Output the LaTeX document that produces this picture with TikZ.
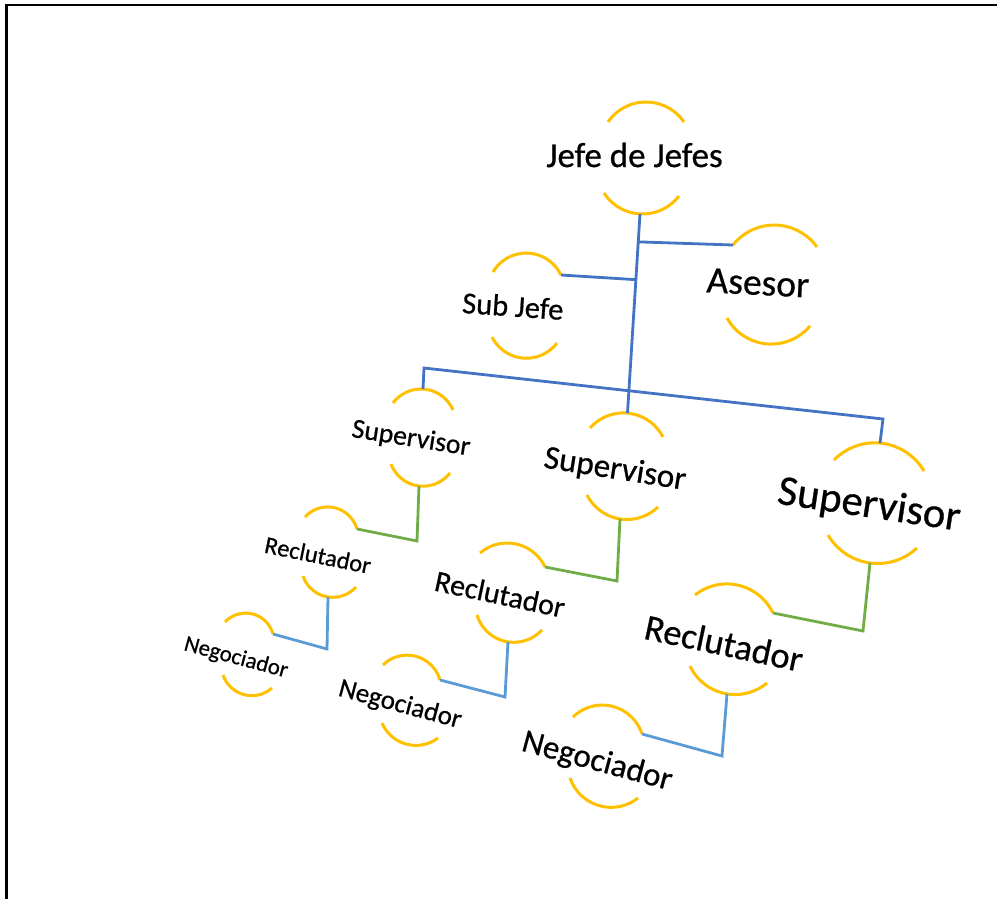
\documentclass[tikz,border=0pt]{standalone}
\usepackage{fontspec}
\setmainfont{Carlito}[FakeBold=0.6]
\usetikzlibrary{calc}
\definecolor{gold}{HTML}{FFC000}
\definecolor{dblue}{HTML}{4472C4}
\definecolor{lblue}{HTML}{5B9BD5}
\definecolor{lgreen}{HTML}{70AD47}
\tikzset{
  bub/.style={draw=gold, line width=3pt, line cap=butt},
  lbl/.style={inner sep=0pt, text=black, anchor=center},
  lnk/.style={line width=2.8pt, line join=miter},
  lnkA/.style={lnk, draw=dblue},
  lnkB/.style={lnk, draw=lgreen},
  lnkC/.style={lnk, draw=lblue},
  frame/.style={draw=black, line width=2.4pt}
}
\newcommand\fsz[1]{\fontsize{#1}{#1}\selectfont}
% \yarc{name}{xA}{yA}{xM}{yM}{xB}{yB}: circular arc through end A, apex M, end B (image pixels, y down)
\newcommand\yarc[7]{%
  \pgfmathsetmacro\yaAx{#2}\pgfmathsetmacro\yaAy{-(#3)}%
  \pgfmathsetmacro\yaMx{#4}\pgfmathsetmacro\yaMy{-(#5)}%
  \pgfmathsetmacro\yaBx{#6}\pgfmathsetmacro\yaBy{-(#7)}%
  \pgfmathsetmacro\yaDx{\yaBx-\yaAx}\pgfmathsetmacro\yaDy{\yaBy-\yaAy}%
  \pgfmathsetmacro\yaL{veclen(\yaDx,\yaDy)}%
  \pgfmathsetmacro\yaC{\yaL/2}%
  \pgfmathsetmacro\yaQx{(\yaAx+\yaBx)/2}\pgfmathsetmacro\yaQy{(\yaAy+\yaBy)/2}%
  \pgfmathsetmacro\yaUx{-\yaDy/\yaL}\pgfmathsetmacro\yaUy{\yaDx/\yaL}%
  \pgfmathsetmacro\yaS{(\yaMx-\yaQx)*\yaUx+(\yaMy-\yaQy)*\yaUy}%
  \pgfmathsetmacro\yaSg{\yaS<0 ? -1 : 1}%
  \pgfmathsetmacro\yaS{abs(\yaS)}%
  \pgfmathsetmacro\yaR{(\yaC*\yaC+\yaS*\yaS)/(2*\yaS)}%
  \pgfmathsetmacro\yaOx{\yaQx-(\yaR-\yaS)*\yaSg*\yaUx}%
  \pgfmathsetmacro\yaOy{\yaQy-(\yaR-\yaS)*\yaSg*\yaUy}%
  \pgfmathsetmacro\yaSt{atan2(\yaAy-\yaOy,\yaAx-\yaOx)}%
  \pgfmathsetmacro\yaEn{atan2(\yaBy-\yaOy,\yaBx-\yaOx)}%
  \pgfmathsetmacro\yaDl{\yaEn-\yaSt}%
  \pgfmathsetmacro\yaDl{\yaDl>180 ? \yaDl-360 : (\yaDl<-180 ? \yaDl+360 : \yaDl)}%
  \coordinate (#1-l) at (#2,-#3);
  \coordinate (#1-m) at (#4,-#5);
  \coordinate (#1-r) at (#6,-#7);
  \draw[bub] (#1-l) arc[start angle=\yaSt, delta angle=\yaDl, radius=\yaR pt];
}
\begin{document}
\begin{tikzpicture}[x=1pt,y=1pt]
\useasboundingbox (0,0) rectangle (997,-899);
% frame
\coordinate (fr1) at (1000,-5);
\coordinate (fr2) at (6.3,-5);
\coordinate (fr3) at (6.3,-905);
\draw[frame] (fr1) -- (fr2) -- (fr3);

% text nodes
\node[lbl] (jefe) at (634.5,-155) {\fsz{35}Jefe de Jefes};
\node[lbl, rotate=-3] (asesor) at (758,-283) {\fsz{37.5}Asesor};
\node[lbl, rotate=-4] (subjefe) at (513,-306) {\fsz{30.5}Sub Jefe};
\node[lbl, rotate=-9] (supL) at (411,-439) {\fsz{27.7}Supervisor};
\node[lbl, rotate=-9] (supM) at (615,-470) {\fsz{33.2}Supervisor};
\node[lbl, rotate=-8.5] (supR) at (869,-506) {\fsz{42.7}Supervisor};
\node[lbl, rotate=-11.5] (recL) at (318,-555) {\fsz{24.5}Reclutador};
\node[lbl, rotate=-12] (recM) at (500,-594) {\fsz{30}Reclutador};
\node[lbl, rotate=-12] (recR) at (724,-643) {\fsz{36.5}Reclutador};
\node[lbl, rotate=-15] (negL) at (236,-658) {\fsz{22.8}Negociador};
\node[lbl, rotate=-15] (negM) at (400,-705) {\fsz{27}Negociador};
\node[lbl, rotate=-15] (negR) at (597,-762) {\fsz{33}Negociador};

% arcs (top T, bottom B)
\yarc{jefeT}{608}{122}{646}{102}{684}{122}
\yarc{jefeB}{604}{193}{642}{214}{679}{196}
\yarc{aseT}{733}{245}{773}{225}{817}{247}
\yarc{aseB}{727}{318}{768}{344}{810}{326}
\yarc{subT}{493}{272}{525}{253}{561}{275}
\yarc{subB}{492}{337}{522}{358}{557}{343}
\yarc{supLT}{393}{403}{423}{389}{453}{410}
\yarc{supLB}{391}{464}{419}{486}{450}{473}
\yarc{supMT}{590}{428}{627}{413}{663}{437}
\yarc{supMB}{587}{495}{620}{519}{658}{507}
\yarc{supRT}{834}{460}{880}{443}{924}{471}
\yarc{supRB}{828}{535}{870}{563}{917}{548}
\yarc{recLT}{305}{517}{327}{506}{357}{529}
\yarc{recLB}{303}{576}{328}{597}{356}{587}
\yarc{recMT}{480}{553}{507}{542}{545}{567}
\yarc{recMB}{477}{615}{508}{642}{542}{630}
\yarc{recRT}{695}{595}{733}{584}{773}{613}
\yarc{recRB}{690}{666}{727}{694}{767}{683}
\yarc{negLT}{225}{622}{245}{612}{273}{634}
\yarc{negLB}{223}{675}{253}{697}{272}{688}
\yarc{negMT}{383}{665}{407}{654}{440}{680}
\yarc{negMB}{382}{723}{417}{747}{438}{738}
\yarc{negRT}{573}{717}{607}{705}{642}{734}
\yarc{negRB}{570}{778}{607}{808}{638}{798}

% connectors: top level (dark blue)
\coordinate (jb) at (640,-214);
\coordinate (smt) at (627.5,-413);
\draw[lnkA] (jb) -- (smt);
\coordinate (ja) at ($(jb)!0.14!(smt)$);
\coordinate (js) at ($(jb)!0.33!(smt)$);
\draw[lnkA] (ja) -- (aseT-l);
\draw[lnkA] (js) -- (subT-r);
\coordinate (cL) at (424,-368);
\coordinate (cR) at (883,-419);
\draw[lnkA] (supLT-m) -- (cL) -- (cR) -- (supRT-m);

% supervisor -> reclutador (green)
\coordinate (gL) at (417,-541);
\coordinate (gM) at (617,-581);
\coordinate (gR) at (863,-631);
\draw[lnkB] (supLB-m) -- (gL) -- (recLT-r);
\draw[lnkB] (supMB-m) -- (gM) -- (recMT-r);
\draw[lnkB] (supRB-m) -- (gR) -- (recRT-r);

% reclutador -> negociador (light blue)
\coordinate (bL) at (327,-649);
\coordinate (bM) at (505,-697);
\coordinate (bR) at (722,-756);
\draw[lnkC] (recLB-m) -- (bL) -- (negLT-r);
\draw[lnkC] (recMB-m) -- (bM) -- (negMT-r);
\draw[lnkC] (recRB-m) -- (bR) -- (negRT-r);
\end{tikzpicture}
\end{document}
